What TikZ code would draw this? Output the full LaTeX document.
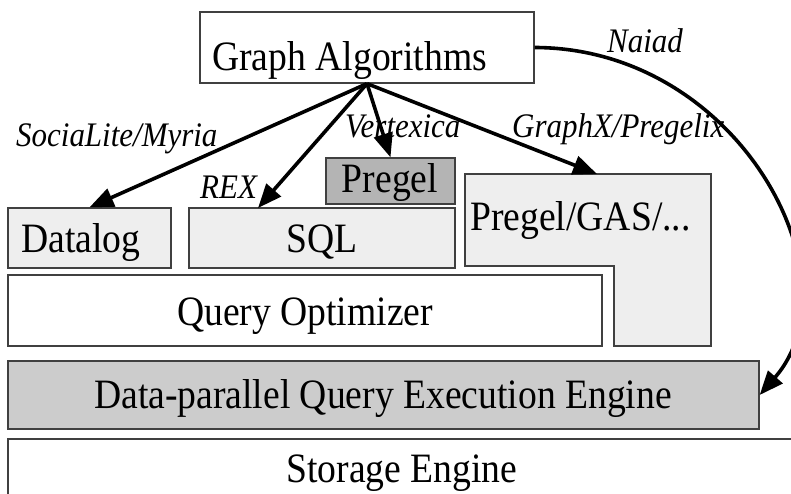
\documentclass[tikz,border=0pt]{standalone}
\usepackage{fontspec}
\setmainfont{Liberation Serif}[FakeStretch=0.9]
\usetikzlibrary{arrows.meta}
\definecolor{lightbox}{HTML}{EEEEEE}
\definecolor{darkbox}{HTML}{B4B4B4}
\definecolor{midbox}{HTML}{CCCCCC}
\definecolor{edgecol}{HTML}{404040}
\begin{document}
\begin{tikzpicture}[x=1pt,y=-1pt,
  box/.style={draw=edgecol,line width=1.3pt,rectangle,inner sep=0pt},
  boxtext/.style={inner sep=0pt,font=\fontsize{41.8}{44}\selectfont},
  edgelabel/.style={inner sep=0pt,font=\fontsize{34.4}{37}\selectfont\itshape},
  conn/.style={line width=3.6pt,-{Triangle[length=24pt,width=19pt]}}]
\useasboundingbox (0,0) rectangle (791,494);
\clip (0,0) rectangle (791,494);
% boxes
\node[box,fill=white,minimum width=334pt,minimum height=71pt] (ga) at (367,47.5) {};
\node[box,fill=lightbox,minimum width=163pt,minimum height=60pt] (datalog) at (89.5,238) {};
\node[box,fill=lightbox,minimum width=266pt,minimum height=60pt] (sql) at (322,238) {};
\node[box,fill=darkbox,minimum width=129pt,minimum height=46pt] (pregel) at (390.5,181) {};
\draw[draw=edgecol,line width=1.3pt,fill=lightbox] (465,174) -- (711,174) -- (711,346) -- (614,346) -- (614,266) -- (465,266) -- cycle;
\node[box,fill=white,minimum width=594pt,minimum height=71pt] (qo) at (305,310.5) {};
\node[box,fill=midbox,minimum width=751pt,minimum height=68pt] (dp) at (383.5,395) {};
\node[box,fill=white,minimum width=788pt,minimum height=71pt] (se) at (402,474.5) {};
% box texts
\node[boxtext,anchor=base west] (gat) at (212,71) {Graph Algorithms};
\node[boxtext,anchor=base west] (datalogt) at (21,252) {Datalog};
\node[boxtext,anchor=base] (sqlt) at (322,252) {SQL};
\node[boxtext,anchor=base] (pregelt) at (390,193) {Pregel};
\node[boxtext,anchor=base west] (gast) at (470,230) {Pregel/GAS/...};
\node[boxtext,anchor=base] (qot) at (305,325) {Query Optimizer};
\node[boxtext,anchor=base] (dpt) at (383,408) {Data-parallel Query Execution Engine};
\node[boxtext,anchor=base] (set) at (402,482) {Storage Engine};
% connector ends
\coordinate (sqlin) at (258,208);
\coordinate (gasin) at (597,174);
% connectors
\draw[conn] (ga.south) -- (datalog.north);
\draw[conn] (ga.south) -- (sqlin);
\draw[conn] (ga.south) -- (pregel.north);
\draw[conn] (ga.south) -- (gasin);
\draw[conn] (ga.east) .. controls (740,48) and (860,280) .. (dp.east);
% connector labels
\node[edgelabel,anchor=base west] (l1) at (16,147) {SociaLite/Myria};
\node[edgelabel,anchor=base west] (l2) at (200,199) {REX};
\node[edgelabel,anchor=base west] (l3) at (345,138) {Vertexica};
\node[edgelabel,anchor=base west] (l4) at (512,138) {GraphX/Pregelix};
\node[edgelabel,anchor=base west] (l5) at (607,53) {Naiad};
\end{tikzpicture}
\end{document}
